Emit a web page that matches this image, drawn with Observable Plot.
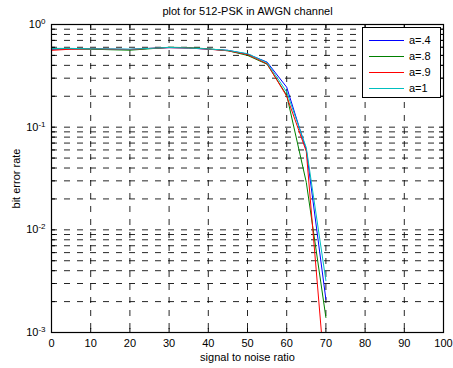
<!DOCTYPE html>
<html>
<head>
<meta charset="utf-8">
<script src="https://cdn.jsdelivr.net/npm/d3@7"></script>
<script src="https://cdn.jsdelivr.net/npm/@observablehq/plot@0.6"></script>
<style>
  body { margin: 0; background: #fff; }
  #wrap { position: relative; width: 453px; height: 368px; font-family: "Liberation Sans", Arial, sans-serif; }
  #legend { position: absolute; left: 362px; top: 27px; width: 77px; height: 69px; background: #fff; border: 1px solid #000; font-size: 11px; }
  .row { position: absolute; left: 0; width: 77px; height: 16px; }
  .sw { position: absolute; left: 6px; top: 8px; width: 35px; height: 1px; }
  .lb { position: absolute; left: 46px; top: 1px; line-height: 14px; color: #000; }
</style>
</head>
<body>
<div id="wrap"><div id="chart"></div><div id="legend"></div></div>
<script>
const title = "plot for 512-PSK in AWGN channel";
const xLabel = "signal to noise ratio";
const yLabel = "bit error rate";

const snr = [0, 5, 10, 15, 20, 25, 30, 35, 40, 45, 50, 55, 60, 65, 70];
const berA04 = [0.575, 0.58, 0.58, 0.575, 0.572, 0.585, 0.595, 0.59, 0.575, 0.56, 0.515, 0.43, 0.245, 0.060, 0.0021];
const berA08 = [0.58, 0.58, 0.575, 0.568, 0.562, 0.58, 0.60, 0.595, 0.58, 0.555, 0.50, 0.41, 0.205, 0.029, 0.0014];
const berA09 = [0.56, 0.575, 0.58, 0.575, 0.57, 0.585, 0.595, 0.59, 0.575, 0.555, 0.51, 0.415, 0.20, 0.058, 0.0003];
const berA1  = [0.585, 0.585, 0.58, 0.578, 0.575, 0.585, 0.598, 0.59, 0.578, 0.56, 0.52, 0.425, 0.22, 0.063, 0.0032];

const seriesNames = ["a=.4", "a=.8", "a=.9", "a=1"];
const seriesValues = [berA04, berA08, berA09, berA1];
const colors = ["#0000ff", "#008000", "#ff0000", "#00bfbf"];

const xTicks = [0, 10, 20, 30, 40, 50, 60, 70, 80, 90, 100];
const xGrid = [10, 20, 30, 40, 50, 60, 70, 80, 90];
const yMajor = [0.001, 0.01, 0.1, 1];
const yMinor = [0.002, 0.003, 0.004, 0.005, 0.006, 0.007, 0.008, 0.009,
                0.02, 0.03, 0.04, 0.05, 0.06, 0.07, 0.08, 0.09,
                0.2, 0.3, 0.4, 0.5, 0.6, 0.7, 0.8, 0.9];
const yGrid = [...yMinor, 0.01, 0.1];
const yTicksAll = [...yMajor, ...yMinor];

const table = seriesNames.flatMap((name, s) =>
  snr.map((x, i) => ({snr: x, ber: seriesValues[s][i], series: name})));

const dash = {stroke: "#000", strokeDasharray: "6,7", strokeWidth: 1, strokeOpacity: 0.85};

const plot = Plot.plot({
  width: 453,
  height: 368,
  marginLeft: 51,
  marginRight: 10,
  marginTop: 24,
  marginBottom: 36,
  style: {fontFamily: '"Liberation Sans", Arial, sans-serif', fontSize: "11px", background: "#fff", color: "#000"},
  x: {domain: [0, 100], label: null},
  y: {type: "log", domain: [0.001, 1], label: null},
  color: {domain: seriesNames, range: colors},
  marks: [
    Plot.ruleY(yGrid, {y: d => d, ...dash}),
    Plot.ruleX(xGrid, {x: d => d, ...dash}),
    Plot.line(table, {x: "snr", y: "ber", z: "series", stroke: "series", strokeWidth: 1, clip: true}),
    Plot.ruleX(xTicks, {x: d => d, y1: 0.001, y2: 0.001, insetTop: -4, insetBottom: 0, stroke: "#000"}),
    Plot.ruleX(xTicks, {x: d => d, y1: 1, y2: 1, insetBottom: -4, insetTop: 0, stroke: "#000"}),
    Plot.ruleY(yTicksAll, {y: d => d, x1: 0, x2: 0, insetRight: -4, insetLeft: 0, stroke: "#000"}),
    Plot.ruleY(yTicksAll, {y: d => d, x1: 100, x2: 100, insetLeft: -4, insetRight: 0, stroke: "#000"}),
    Plot.frame({stroke: "#000", strokeWidth: 1.2}),
    Plot.axisX({ticks: xTicks, tickSize: 0, tickPadding: 7, label: null, tickFormat: d => String(d)}),
    Plot.axisY({ticks: yMajor, tickSize: 0, tickPadding: 6, label: null, tickFormat: d => "10^" + Math.round(Math.log10(d))}),
    Plot.text([title], {text: d => d, frameAnchor: "top", lineAnchor: "middle", dy: -13, fontSize: 11}),
    Plot.text([xLabel], {text: d => d, frameAnchor: "bottom", lineAnchor: "middle", dy: 25, fontSize: 11}),
    Plot.text([yLabel], {text: d => d, frameAnchor: "left", textAnchor: "middle", lineAnchor: "middle", dx: -35, rotate: -90, fontSize: 11})
  ]
});

d3.select(plot).selectAll('g[aria-label="y-axis tick label"] text').each(function () {
  const parts = this.textContent.split("^");
  if (parts.length === 2) {
    this.textContent = parts[0];
    d3.select(this).append("tspan").attr("dy", "-0.5em").attr("font-size", "8px").text(parts[1]);
  }
});

document.getElementById("chart").appendChild(plot);

const legend = document.getElementById("legend");
seriesNames.forEach((name, i) => {
  const row = document.createElement("div");
  row.className = "row";
  row.style.top = (4 + 16 * i) + "px";
  const sw = document.createElement("div");
  sw.className = "sw";
  sw.style.background = colors[i];
  const lb = document.createElement("div");
  lb.className = "lb";
  lb.textContent = name;
  row.appendChild(sw);
  row.appendChild(lb);
  legend.appendChild(row);
});
</script>
</body>
</html>
